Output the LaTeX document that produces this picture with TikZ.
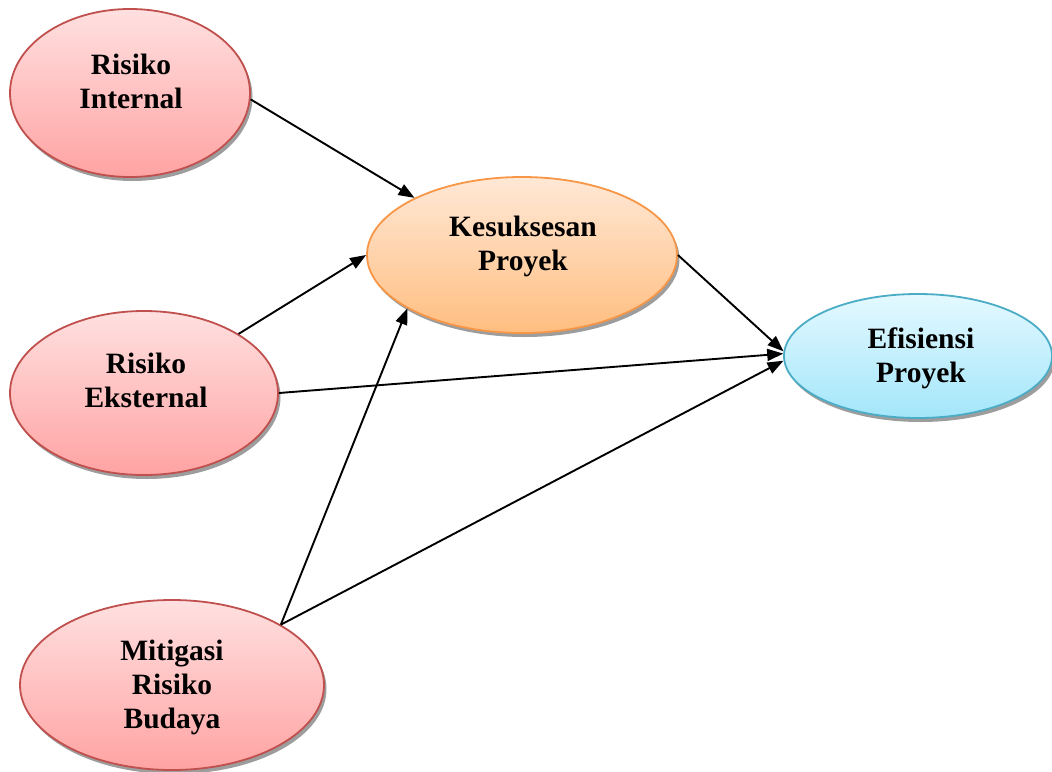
\documentclass[tikz,border=0pt]{standalone}
\usepackage{fontspec}
\setmainfont{Liberation Serif}
\usetikzlibrary{shapes.geometric,arrows.meta,shadows}

\definecolor{redline}{HTML}{C0504D}
\definecolor{redtop}{HTML}{FFE0E0}
\definecolor{redbot}{HTML}{FFA3A3}
\definecolor{orgline}{HTML}{F79646}
\definecolor{orgtop}{HTML}{FFE8D6}
\definecolor{orgbot}{HTML}{FFBE80}
\definecolor{blueline}{HTML}{4BACC6}
\definecolor{bluetop}{HTML}{E4F9FF}
\definecolor{bluebot}{HTML}{A3E6FA}

\tikzset{
  blob/.style={ellipse, inner sep=0pt, line width=1.8pt,
    drop shadow={shadow xshift=2.5pt, shadow yshift=-4pt, opacity=0.55, fill=black!70}},
  riskblob/.style={blob, draw=redline, top color=redtop, bottom color=redbot},
  succblob/.style={blob, draw=orgline, top color=orgtop, bottom color=orgbot},
  effblob/.style={blob, draw=blueline, top color=bluetop, bottom color=bluebot},
  caption/.style={align=center, font=\bfseries\fontsize{29.5}{34}\selectfont, inner sep=0pt},
  link/.style={line width=1.9pt, -{Triangle[length=16pt,width=12pt]}}
}

\begin{document}
\begin{tikzpicture}[x=1pt,y=-1pt]
  \useasboundingbox (0,0) rectangle (1052,771);

  % variables
  \node[riskblob, minimum width=240pt, minimum height=168pt] (intern) at (130,93) {};
  \node[riskblob, minimum width=268pt, minimum height=164pt] (extern) at (144,393) {};
  \node[riskblob, minimum width=304pt, minimum height=170pt] (mitig) at (172,685) {};
  \node[succblob, minimum width=310pt, minimum height=156pt] (succ) at (522,255) {};
  \node[effblob, minimum width=268pt, minimum height=124pt] (eff) at (918,356) {};

  % labels
  \node[caption] (tintern) at (131,81) {Risiko\\Internal};
  \node[caption] (textern) at (146,380) {Risiko\\Eksternal};
  \node[caption] (tmitig) at (172,687) {Mitigasi\\Risiko\\Budaya};
  \node[caption] (tsucc) at (523,246) {Kesuksesan\\Proyek};
  \node[caption] (teff) at (921,358) {Efisiensi\\Proyek};

  % paths
  \draw[link] (intern.-3) -- (succ.152);
  \draw[link] (extern.32) -- (succ.180);
  \draw[link] (extern.0) -- (eff.179);
  \draw[link] (mitig.29) -- (succ.205);
  \draw[link] (mitig.29) -- (eff.182);
  \draw[link] (succ.0) -- (eff.178);
\end{tikzpicture}
\end{document}
